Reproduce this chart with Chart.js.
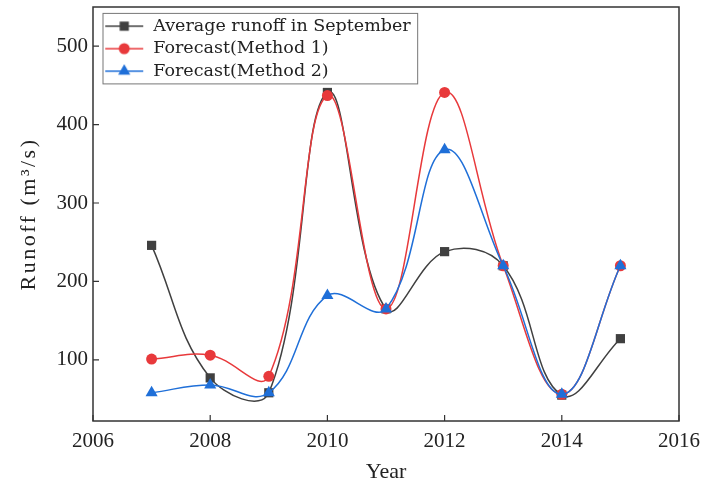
<!DOCTYPE html>
<html>
<head>
<meta charset="utf-8">
<script src="https://cdn.jsdelivr.net/npm/chart.js@4.4.1/dist/chart.umd.min.js"></script>
<style>
  html, body { margin: 0; padding: 0; background: #fff; }
  #c { display: block; }
</style>
</head>
<body>
<canvas id="c" width="702" height="485"></canvas>
<script>
// September runoff and two forecasts, m³/s
const years = [2007, 2008, 2009, 2010, 2011, 2012, 2013, 2014, 2015];
const avgRunoff = [246, 77, 58, 441, 165, 238, 220, 55, 127];
const method1 = [101, 106, 79, 437, 165, 441, 220, 56, 220];
const method2 = [58, 68, 58, 182, 165, 368, 220, 56, 220];
const xTicks = [2006, 2008, 2010, 2012, 2014, 2016];
const yTicks = [100, 200, 300, 400, 500];
const seriesNames = ['Average runoff in September', 'Forecast(Method 1)', 'Forecast(Method 2)'];

const GRAY = '#404040', RED = '#e8393b', BLUE = '#1f6fd8';
const SERIF = '"Liberation Serif", "Times New Roman", serif';

const toPoints = vals => years.map((y, i) => ({ x: y, y: vals[i] }));

// small line + marker glyph used as legend symbol
function legendGlyph(color, style, r) {
  const c = document.createElement('canvas');
  c.width = 60; c.height = 18;
  const g = c.getContext('2d');
  g.strokeStyle = color; g.lineWidth = 1.5;
  g.beginPath(); g.moveTo(14, 9); g.lineTo(52, 9); g.stroke();
  g.fillStyle = color;
  const cx = 33, cy = 9;
  g.beginPath();
  if (style === 'rect') {
    const s = r * Math.SQRT1_2;
    g.rect(cx - s, cy - s, 2 * s, 2 * s);
  } else if (style === 'circle') {
    g.arc(cx, cy, r, 0, Math.PI * 2);
  } else {
    g.moveTo(cx, cy - r);
    g.lineTo(cx + r * 0.866, cy + r * 0.5);
    g.lineTo(cx - r * 0.866, cy + r * 0.5);
    g.closePath();
  }
  g.fill();
  return c;
}
const glyphs = [
  legendGlyph(GRAY, 'rect', 6.5),
  legendGlyph(RED, 'circle', 5.5),
  legendGlyph(BLUE, 'triangle', 7)
];

// closed frame, inward tick marks and legend border
const framePlugin = {
  id: 'frame',
  afterDraw(chart) {
    const { ctx, chartArea: a, scales } = chart;
    ctx.save();
    ctx.strokeStyle = '#333';
    ctx.lineWidth = 1.5;
    ctx.strokeRect(a.left, a.top, a.right - a.left, a.bottom - a.top);
    ctx.lineWidth = 1.2;
    ctx.beginPath();
    xTicks.forEach(v => {
      const px = scales.x.getPixelForValue(v);
      ctx.moveTo(px, a.bottom); ctx.lineTo(px, a.bottom - 6);
    });
    yTicks.forEach(v => {
      const py = scales.y.getPixelForValue(v);
      ctx.moveTo(a.left, py); ctx.lineTo(a.left + 6, py);
    });
    ctx.stroke();

    const hb = chart.legend.legendHitBoxes;
    if (hb && hb.length) {
      const left = hb[0].left + 5;
      const top = hb[0].top - 4;
      const last = hb[hb.length - 1];
      const bottom = last.top + last.height + 4;
      const right = Math.max(...hb.map(h => h.left + h.width)) + 7;
      ctx.strokeStyle = '#777';
      ctx.lineWidth = 1;
      ctx.strokeRect(left, top, right - left, bottom - top);
    }
    ctx.restore();
  }
};

// spaced-out lettering for the vertical axis title
function spaceTitle(scale) {
  if (scale._spaced) return;
  const orig = scale.drawTitle;
  scale.drawTitle = function (...args) {
    const ctx = this.ctx;
    const prev = ctx.letterSpacing;
    ctx.letterSpacing = '2.5px';
    orig.apply(this, args);
    ctx.letterSpacing = prev || '0px';
  };
  scale._spaced = true;
}

new Chart(document.getElementById('c'), {
  type: 'line',
  data: {
    datasets: [
      { label: seriesNames[0], data: toPoints(avgRunoff), borderColor: GRAY, backgroundColor: GRAY,
        pointStyle: 'rect', pointRadius: 6.5, order: 2 },
      { label: seriesNames[1], data: toPoints(method1), borderColor: RED, backgroundColor: RED,
        pointStyle: 'circle', pointRadius: 5.5, order: 1 },
      { label: seriesNames[2], data: toPoints(method2), borderColor: BLUE, backgroundColor: BLUE,
        pointStyle: 'triangle', pointRadius: 7, order: 0 }
    ]
  },
  options: {
    responsive: false,
    animation: false,
    devicePixelRatio: 1,
    layout: { padding: { top: 7, right: 23, left: 0, bottom: 0 } },
    elements: {
      line: { borderWidth: 1.5, tension: 0.4, fill: false },
      point: { borderWidth: 0, hoverRadius: 6 }
    },
    scales: {
      x: {
        type: 'linear',
        min: 2006, max: 2016,
        grid: { display: false, drawTicks: false },
        border: { display: false },
        afterBuildTicks: s => { s.ticks = xTicks.map(v => ({ value: v })); },
        afterFit: s => { s.height = 64; s.paddingLeft = 0; s.paddingRight = 0; },
        ticks: {
          padding: 8,
          color: '#222',
          font: { family: SERIF, size: 21 },
          callback: v => String(v)
        },
        title: {
          display: true, text: 'Year', color: '#222',
          font: { family: SERIF, size: 22 },
          padding: { top: 0, bottom: 0 }
        }
      },
      y: {
        min: 22, max: 550,
        grid: { display: false, drawTicks: false },
        border: { display: false },
        afterBuildTicks: s => { s.ticks = yTicks.map(v => ({ value: v })); },
        afterFit: s => { s.width = 93; s.paddingTop = 0; s.paddingBottom = 0; spaceTitle(s); },
        ticks: {
          padding: 5,
          color: '#222',
          font: { family: SERIF, size: 21 },
          callback: v => String(v)
        },
        title: {
          display: true, text: 'Runoff (m³/s)', color: '#222',
          font: { family: SERIF, size: 22 },
          padding: { top: 16, bottom: 0 }
        }
      }
    },
    plugins: {
      tooltip: { enabled: false },
      legend: {
        position: 'chartArea',
        align: 'start',
        title: { display: true, text: ' ', font: { size: 2 }, padding: { top: 0, bottom: 10 } },
        labels: {
          usePointStyle: true,
          pointStyleWidth: 46.5,
          padding: 5,
          color: '#222',
          font: { family: '"DejaVu Serif", serif', size: 17.5 },
          sort: (a, b) => a.datasetIndex - b.datasetIndex,
          generateLabels(chart) {
            const items = Chart.defaults.plugins.legend.labels.generateLabels(chart);
            items.forEach(it => { it.pointStyle = glyphs[it.datasetIndex]; it.rotation = 0; });
            return items;
          }
        }
      }
    }
  },
  plugins: [framePlugin]
});
</script>
</body>
</html>
